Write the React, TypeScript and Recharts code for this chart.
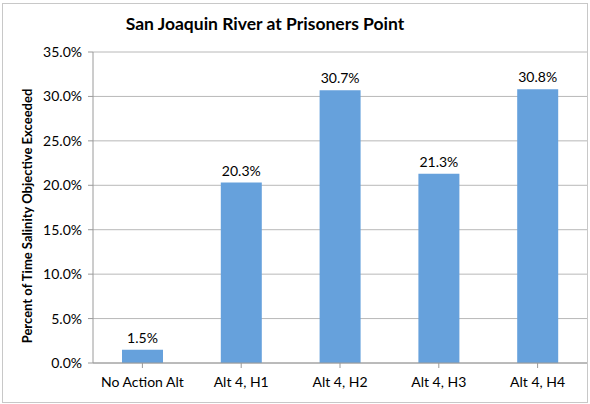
import { BarChart, Bar, XAxis, YAxis, CartesianGrid, LabelList } from 'recharts'

const CATEGORIES = ['No Action Alt', 'Alt 4, H1', 'Alt 4, H2', 'Alt 4, H3', 'Alt 4, H4']
const EXCEEDED = [1.5, 20.3, 30.7, 21.3, 30.8]
const Y_TICKS = [0, 5, 10, 15, 20, 25, 30, 35]

const data = CATEGORIES.map((name, i) => ({ name, value: EXCEEDED[i] }))

const FONT = 'Lato, "Open Sans", sans-serif'
const AXIS = '#9a9a9a'

export default function App() {
  return (
    <div style={{ position: 'absolute', left: 0, top: 0, width: 590, height: 404, background: '#fff', fontFamily: FONT }}>
      <div style={{ position: 'absolute', left: 2, top: 3, width: 586, height: 400, border: '1px solid #c8c8c8', boxSizing: 'border-box' }} />
      <div style={{ position: 'absolute', left: 0, width: 530, top: 13, textAlign: 'center', fontSize: 17.5, fontWeight: 700, color: '#000' }}>
        San Joaquin River at Prisoners Point
      </div>
      <div
        style={{
          position: 'absolute',
          left: 27,
          top: 216,
          transform: 'translate(-50%, -50%) rotate(-90deg)',
          whiteSpace: 'nowrap',
          fontSize: 13,
          fontWeight: 700,
          color: '#000',
        }}
      >
        Percent of Time Salinity Objective Exceeded
      </div>
      <BarChart
        width={590}
        height={404}
        data={data}
        margin={{ top: 52, right: 3, bottom: 11, left: 0 }}
        style={{ position: 'absolute', left: 0, top: 0 }}
      >
        <CartesianGrid vertical={false} stroke="#b8b8b8" />
        <XAxis
          dataKey="name"
          height={30}
          stroke={AXIS}
          tickSize={5}
          tickMargin={9}
          interval={0}
          tick={{ fill: '#000', fontSize: 14, fontFamily: FONT }}
        />
        <YAxis
          width={93}
          domain={[0, 35]}
          ticks={Y_TICKS}
          stroke={AXIS}
          tickSize={5}
          tickMargin={6}
          tickFormatter={(v: number) => `${v.toFixed(1)}%`}
          tick={{ fill: '#000', fontSize: 14, fontFamily: FONT }}
        />
        <Bar dataKey="value" fill="#66a1dc" barSize={41} isAnimationActive={false}>
          <LabelList
            dataKey="value"
            position="top"
            offset={7}
            formatter={(v: number) => `${v.toFixed(1)}%`}
            style={{ fill: '#000', fontSize: 14, fontFamily: FONT }}
          />
        </Bar>
      </BarChart>
    </div>
  )
}
